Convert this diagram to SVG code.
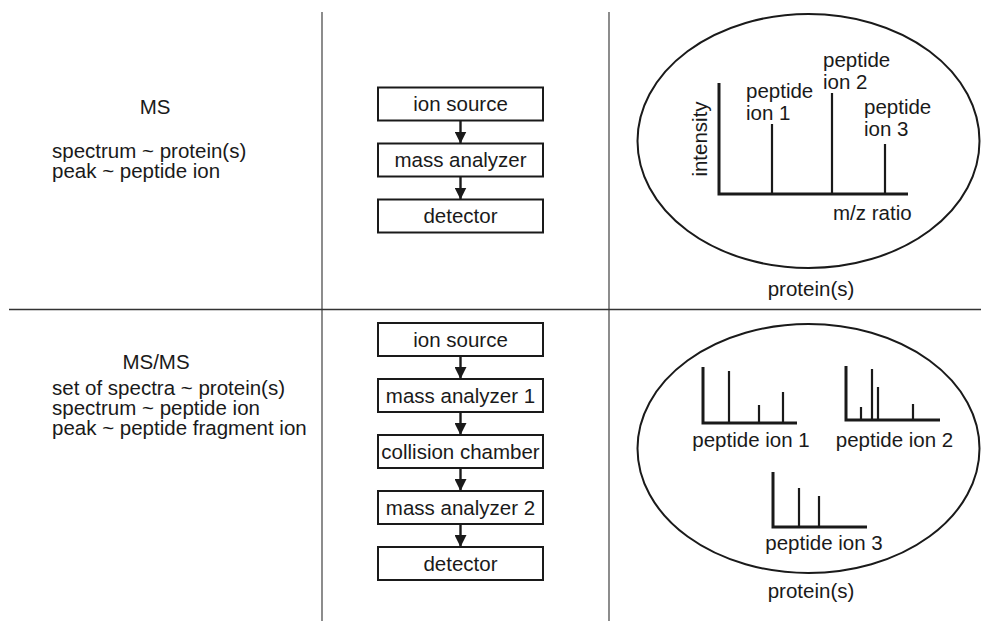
<svg xmlns="http://www.w3.org/2000/svg" width="981" height="621" viewBox="0 0 981 621">
  <style>
    text { font-family: "Liberation Sans", Arial, sans-serif; font-size: 20.5px; fill: #1a1a1a; }
    .mid { text-anchor: middle; }
    .box { fill: #fff; stroke: #1a1a1a; stroke-width: 2; }
    .conn { stroke: #1a1a1a; stroke-width: 2.4; fill: none; }
    .axis { stroke: #1a1a1a; stroke-width: 3; fill: none; }
    .peak { stroke: #1a1a1a; stroke-width: 2.2; fill: none; }
    .oval { fill: none; stroke: #1a1a1a; stroke-width: 2; }
  </style>
  <defs>
    <marker id="head" viewBox="0 0 12 12" refX="12" refY="6" markerWidth="12" markerHeight="12" markerUnits="userSpaceOnUse" orient="auto">
      <path d="M0,0 L12,6 L0,12 z" fill="#1a1a1a"/>
    </marker>
  </defs>
  <rect width="981" height="621" fill="#fff"/>

  <!-- grid lines -->
  <g id="grid">
    <line x1="322" y1="12" x2="322" y2="621" stroke="#707070" stroke-width="1.6"/>
    <line x1="609" y1="12" x2="609" y2="621" stroke="#707070" stroke-width="1.6"/>
    <line x1="9" y1="309.5" x2="981" y2="309.5" stroke="#333" stroke-width="1.6"/>
  </g>

  <!-- left column descriptions -->
  <g id="ms-desc">
    <text x="155" y="114" class="mid">MS</text>
    <text x="52" y="158">spectrum ~ protein(s)</text>
    <text x="52" y="178">peak ~ peptide ion</text>
  </g>
  <g id="msms-desc">
    <text x="156" y="369" class="mid">MS/MS</text>
    <text x="52" y="395">set of spectra ~ protein(s)</text>
    <text x="52" y="415">spectrum ~ peptide ion</text>
    <text x="52" y="435">peak ~ peptide fragment ion</text>
  </g>

  <!-- MS instrument -->
  <g id="ms-ion-source"><rect class="box" x="378" y="87.5" width="165" height="33"/><text x="460.5" y="111" class="mid">ion source</text></g>
  <g id="ms-mass-analyzer"><rect class="box" x="378" y="143.5" width="165" height="33"/><text x="460.5" y="167" class="mid">mass analyzer</text></g>
  <g id="ms-detector"><rect class="box" x="378" y="199.5" width="165" height="33"/><text x="460.5" y="223" class="mid">detector</text></g>

  <!-- MS/MS instrument -->
  <g id="msms-ion-source"><rect class="box" x="378" y="323" width="165" height="33"/><text x="460.5" y="346.5" class="mid">ion source</text></g>
  <g id="msms-mass-analyzer-1"><rect class="box" x="378" y="379" width="165" height="33"/><text x="460.5" y="402.5" class="mid">mass analyzer 1</text></g>
  <g id="msms-collision-chamber"><rect class="box" x="378" y="435" width="165" height="33"/><text x="460.5" y="458.5" class="mid">collision chamber</text></g>
  <g id="msms-mass-analyzer-2"><rect class="box" x="378" y="491" width="165" height="33"/><text x="460.5" y="514.5" class="mid">mass analyzer 2</text></g>
  <g id="msms-detector"><rect class="box" x="378" y="547" width="165" height="33"/><text x="460.5" y="570.5" class="mid">detector</text></g>

  <!-- flow arrows -->
  <g id="connectors">
    <line class="conn" x1="460.5" y1="120.5" x2="460.5" y2="143.5" marker-end="url(#head)"/>
    <line class="conn" x1="460.5" y1="176.5" x2="460.5" y2="199.5" marker-end="url(#head)"/>
    <line class="conn" x1="460.5" y1="356" x2="460.5" y2="379" marker-end="url(#head)"/>
    <line class="conn" x1="460.5" y1="412" x2="460.5" y2="435" marker-end="url(#head)"/>
    <line class="conn" x1="460.5" y1="468" x2="460.5" y2="491" marker-end="url(#head)"/>
    <line class="conn" x1="460.5" y1="524" x2="460.5" y2="547" marker-end="url(#head)"/>
  </g>

  <!-- MS spectrum of a protein -->
  <g id="ms-spectrum">
    <ellipse class="oval" cx="808.5" cy="141" rx="171" ry="127"/>
    <polyline class="axis" points="719,83 719,194 908,194"/>
    <line class="peak" x1="772" y1="124" x2="772" y2="194"/>
    <line class="peak" x1="832" y1="93" x2="832" y2="194"/>
    <line class="peak" x1="885" y1="144" x2="885" y2="194"/>
    <text x="746" y="98">peptide</text>
    <text x="746" y="120">ion 1</text>
    <text x="823" y="67">peptide</text>
    <text x="823" y="89">ion 2</text>
    <text x="864" y="114">peptide</text>
    <text x="864" y="136">ion 3</text>
    <text transform="translate(707,139) rotate(-90)" class="mid">intensity</text>
    <text x="833" y="220">m/z ratio</text>
    <text x="811" y="296" class="mid">protein(s)</text>
  </g>

  <!-- MS/MS spectra of a protein -->
  <g id="msms-spectra">
    <ellipse class="oval" cx="808.5" cy="448.5" rx="171" ry="124.5"/>
    <polyline class="axis" points="703,367 703,423 797,423"/>
    <line class="peak" x1="729" y1="371" x2="729" y2="423"/>
    <line class="peak" x1="759" y1="405" x2="759" y2="423"/>
    <line class="peak" x1="783" y1="392" x2="783" y2="423"/>
    <text x="751" y="447" class="mid">peptide ion 1</text>

    <polyline class="axis" points="846,366 846,420 940,420"/>
    <line class="peak" x1="861" y1="407" x2="861" y2="420"/>
    <line class="peak" x1="872" y1="369" x2="872" y2="420"/>
    <line class="peak" x1="878" y1="387" x2="878" y2="420"/>
    <line class="peak" x1="913" y1="404" x2="913" y2="420"/>
    <text x="894.5" y="447" class="mid">peptide ion 2</text>

    <polyline class="axis" points="773,472 773,527 867,527"/>
    <line class="peak" x1="799" y1="488" x2="799" y2="527"/>
    <line class="peak" x1="819" y1="496" x2="819" y2="527"/>
    <text x="824" y="550" class="mid">peptide ion 3</text>

    <text x="811" y="598" class="mid">protein(s)</text>
  </g>
</svg>
